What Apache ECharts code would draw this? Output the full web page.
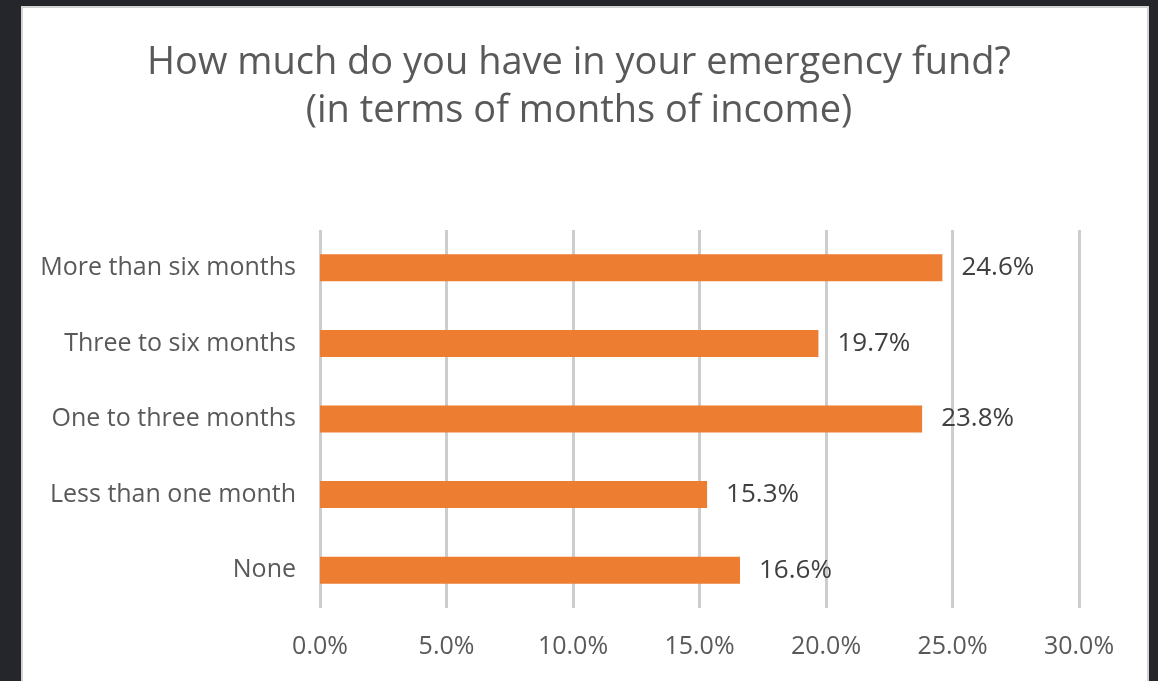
<!DOCTYPE html>
<html>
<head>
<meta charset="utf-8">
<script src="https://cdn.jsdelivr.net/npm/echarts@6/dist/echarts.min.js"></script>
<style>
  html, body { margin: 0; padding: 0; background: #24262b; }
  #chart { width: 1158px; height: 681px; }
</style>
</head>
<body>
<div id="chart"></div>
<script>
// Survey answers, top to bottom
const categories = [
  'More than six months',
  'Three to six months',
  'One to three months',
  'Less than one month',
  'None'
];
const shares = [24.6, 19.7, 23.8, 15.3, 16.6];
const titleLines = [
  'How much do you have in your emergency fund?',
  '(in terms of months of income)'
];

const chart = echarts.init(document.getElementById('chart'));
const textColor = '#595959';
const font = '"Open Sans", "Noto Sans", sans-serif';

chart.setOption({
  backgroundColor: '#24262b',
  animation: false,
  graphic: [{
    type: 'rect',
    shape: { x: 22, y: 7, width: 1126, height: 690 },
    style: { fill: '#ffffff', stroke: '#d4d4d4', lineWidth: 2 },
    z: -10
  }],
  title: {
    text: titleLines.join('\n'),
    left: 'center',
    top: 34,
    textStyle: {
      fontFamily: font,
      fontSize: 38,
      fontWeight: 'normal',
      color: textColor,
      lineHeight: 48
    }
  },
  grid: { left: 320, right: 79, top: 230, bottom: 73, containLabel: false },
  xAxis: {
    type: 'value',
    min: 0,
    max: 30,
    interval: 5,
    axisLine: { show: false },
    axisTick: { show: false },
    axisLabel: {
      margin: 26,
      fontFamily: font,
      fontSize: 25,
      color: textColor,
      formatter: v => v.toFixed(1) + '%'
    },
    splitLine: { lineStyle: { color: '#cdcdcd', width: 3 } }
  },
  yAxis: {
    type: 'category',
    data: categories,
    inverse: true,
    axisLine: { show: false },
    axisTick: { show: false },
    axisLabel: {
      margin: 24,
      fontFamily: font,
      fontSize: 25,
      color: textColor
    }
  },
  series: [{
    type: 'bar',
    data: shares,
    barWidth: 27,
    itemStyle: { color: '#ED7D31' },
    label: {
      show: true,
      position: 'right',
      distance: 19,
      fontFamily: font,
      fontSize: 26,
      color: '#404040',
      formatter: p => p.value.toFixed(1) + '%'
    }
  }]
});
</script>
</body>
</html>
